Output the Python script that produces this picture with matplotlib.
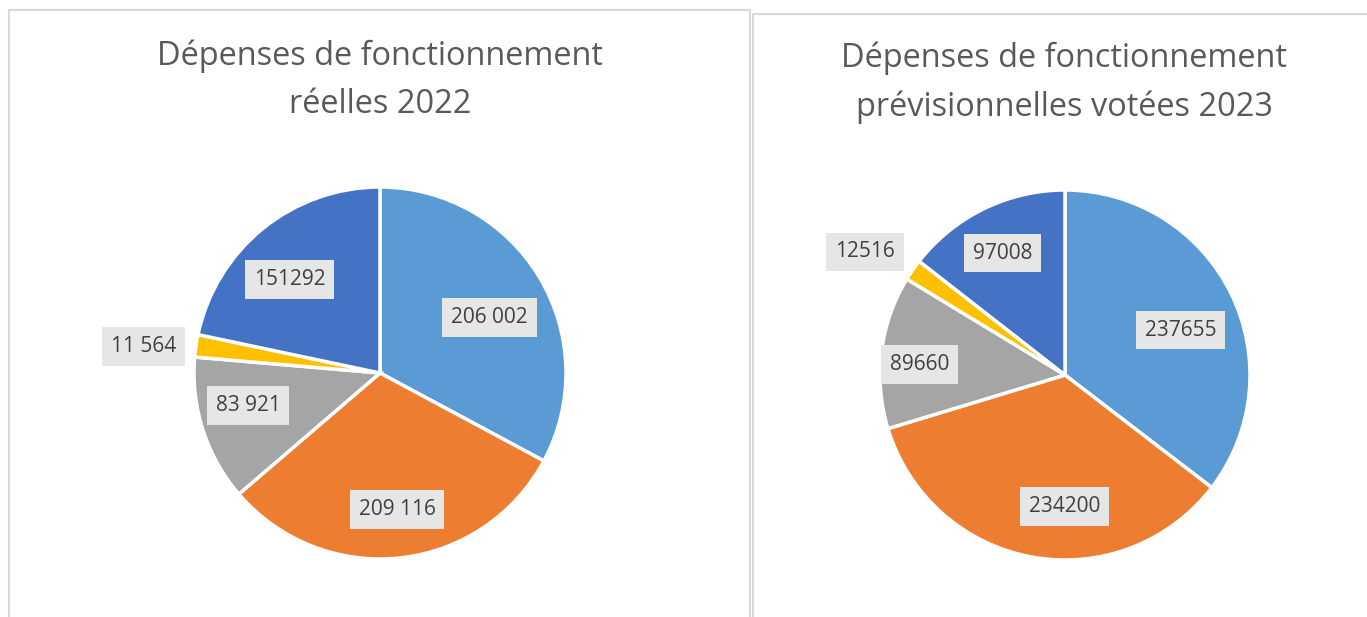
import numpy as np
import matplotlib
matplotlib.use("Agg")
import matplotlib.pyplot as plt
from matplotlib.patches import Rectangle

# données
# 2022 : tailles des secteurs telles que dessinées (les étiquettes sont le texte affiché)
values_2022 = [218000, 205000, 84000, 12900, 144000]
labels_2022 = ["206 002", "209 116", "83 921", "11 564", "151292"]
values_2023 = [237655, 234200, 89660, 12516, 97008]
labels_2023 = ["237655", "234200", "89660", "12516", "97008"]
colors = ["#5B9BD5", "#ED7D31", "#A5A5A5", "#FFC000", "#4472C4"]

title_2022 = "Dépenses de fonctionnement\nréelles 2022"
title_2023 = "Dépenses de fonctionnement\nprévisionnelles votées 2023"

W, H = 1367, 617
fig = plt.figure(figsize=(W / 100, H / 100), dpi=100)
plt.rcParams['font.family'] = ['Open Sans', 'DejaVu Sans']


def px_axes(cx, cy, r):
    return fig.add_axes([(cx - r) / W, (H - cy - r) / H, 2 * r / W, 2 * r / H])


def draw_pie(ax, values, labels, dists, offsets):
    wedges, _ = ax.pie(values, colors=colors, startangle=90, counterclock=False,
                       radius=1.0, wedgeprops=dict(edgecolor="white", linewidth=2.5))
    for w, lab, d, off in zip(wedges, labels, dists, offsets):
        mid = np.deg2rad((w.theta1 + w.theta2) / 2 + off)
        ax.text(d * np.cos(mid), d * np.sin(mid), lab, ha="center", va="center",
                fontsize=15, color="#404040", clip_on=False,
                bbox=dict(boxstyle="square,pad=0.42", fc="#E7E6E6", ec="none"))
    ax.set_xlim(-1, 1)
    ax.set_ylim(-1, 1)
    ax.set_aspect("equal")
    ax.axis("off")


# cadres des deux graphiques
fig.patches.append(Rectangle((9 / W, -0.05), 741 / W, (H - 10) / H + 0.05,
                             transform=fig.transFigure, fill=False,
                             ec="#D9D9D9", lw=1.5))
fig.patches.append(Rectangle((753 / W, -0.05), 700 / W, (H - 14) / H + 0.05,
                             transform=fig.transFigure, fill=False,
                             ec="#D9D9D9", lw=1.5))

ax1 = px_axes(380, 373, 186)
draw_pie(ax1, values_2022, labels_2022,
         [0.66, 0.74, 0.73, 1.28, 0.70], [-4, 1, -4, 2, 5])

ax2 = px_axes(1065, 375, 185)
draw_pie(ax2, values_2023, labels_2023,
         [0.67, 0.71, 0.79, 1.27, 0.74], [-5, 10, 3, 3, 1])

fig.text(380 / W, 1 - 80 / H, title_2022, ha="center", va="center",
         fontsize=23.4, color="#595959", linespacing=1.6)
fig.text(1064 / W, 1 - 83 / H, title_2023, ha="center", va="center",
         fontsize=23.4, color="#595959", linespacing=1.6)

fig.savefig("out.png", dpi=100, facecolor="white")
